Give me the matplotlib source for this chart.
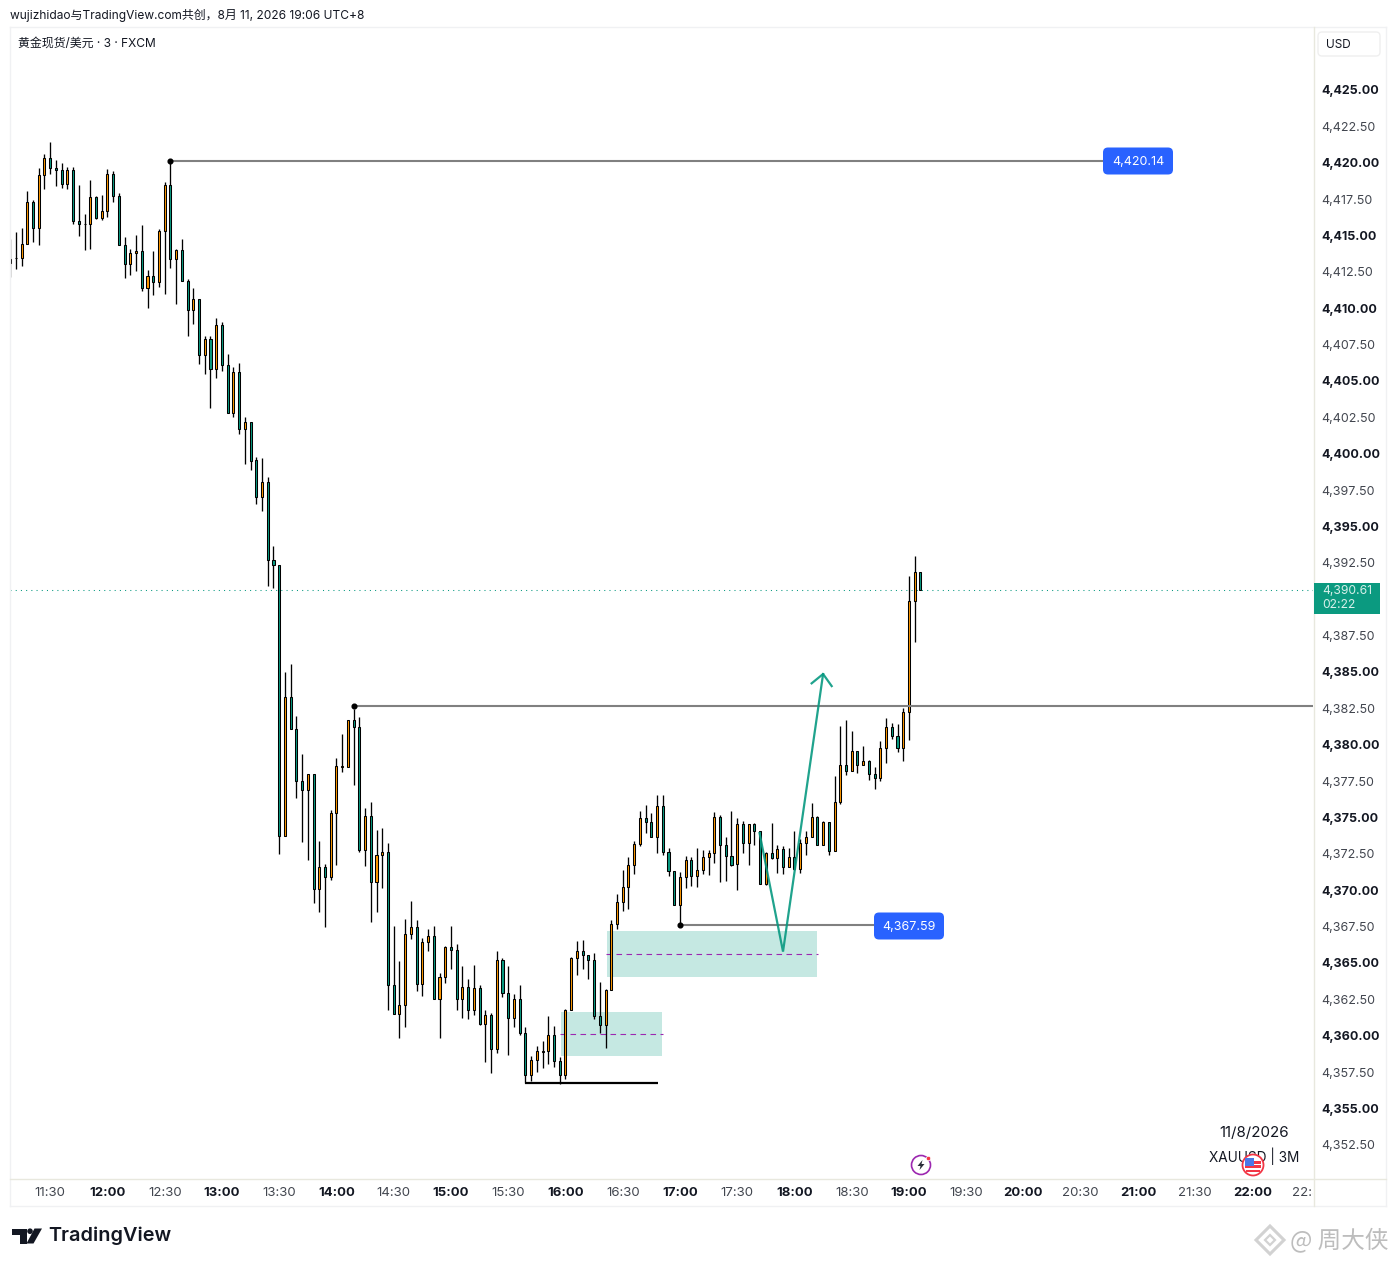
import matplotlib
matplotlib.use("Agg")
import matplotlib.pyplot as plt
from matplotlib.patches import FancyBboxPatch, Rectangle, Circle, Polygon
from matplotlib.transforms import Bbox

W, H = 1395, 1266
FONT = ['Inter', 'Noto Sans CJK SC', 'DejaVu Sans']
plt.rcParams['font.family'] = FONT

opens = [
 4413.09,4413.43,4413.43,4414.39,4417.28,4415.49,4419.13,4420.30,4419.62,4419.48,
 4418.52,4419.48,4415.97,4415.77,4415.77,4417.62,4416.22,4416.66,4419.20,4417.69,
 4414.32,4413.02,4413.77,4413.91,4411.37,4412.19,4411.78,4415.29,4418.45,4413.36,
 4413.98,4411.85,4409.86,4410.61,4406.76,4407.86,4405.80,4408.82,4406.08,4402.78,
 4405.59,4401.68,4402.16,4399.55,4397.05,4398.04,4392.67,4392.33,4373.70,4383.26,
 4381.06,4377.48,4376.86,4377.96,4370.06,4371.57,4370.93,4375.28,4378.45,4378.45,
 4381.68,4381.19,4372.74,4375.08,4370.54,4372.40,4372.60,4363.46,4361.47,4362.09,
 4366.97,4367.45,4363.53,4366.42,4366.83,4362.50,4364.01,4366.07,4365.87,4362.50,
 4363.32,4361.74,4363.25,4360.78,4361.40,4359.06,4365.18,4362.91,4361.19,4362.50,
 4360.16,4357.27,4358.31,4358.90,4358.92,4360.02,4358.24,4357.27,4361.74,4365.32,
 4365.80,4365.52,4365.18,4361.33,4360.71,4363.12,4367.65,4369.17,4370.20,4371.72,
 4373.16,4374.95,4374.67,4373.64,4375.77,4372.61,4371.30,4368.97,4370.89,4372.06,
 4370.96,4371.37,4372.26,4372.54,4375.01,4373.09,4372.33,4371.78,4374.53,4373.23,
 4374.53,4374.05,4370.41,4372.54,4372.20,4372.81,4371.58,4372.26,4371.44,4373.23,
 4373.64,4375.01,4373.09,4374.67,4372.67,4376.05,4378.59,4378.18,4379.55,4378.59,
 4378.87,4377.97,4377.70,4379.76,4381.20,4380.58,4379.76,4382.23,4389.86,4391.85]
highs = [
 4414.76,4415.22,4415.49,4418.06,4417.42,4419.64,4420.60,4421.40,4420.17,4419.96,
 4419.68,4419.68,4418.45,4416.48,4418.79,4417.69,4417.76,4419.55,4419.41,4417.90,
 4414.87,4414.05,4415.01,4415.70,4412.60,4413.91,4415.42,4418.65,4420.14,4414.05,
 4414.74,4411.99,4411.37,4410.61,4408.07,4408.07,4409.31,4409.03,4406.83,4405.94,
 4406.21,4402.50,4402.16,4399.75,4399.69,4398.38,4393.64,4392.33,4384.98,4385.52,
 4381.95,4379.34,4377.96,4377.96,4373.36,4371.78,4375.49,4379.06,4380.74,4381.68,
 4382.43,4381.88,4375.63,4376.04,4374.12,4374.25,4373.22,4367.52,4365.11,4368.00,
 4369.23,4367.93,4366.69,4367.31,4367.52,4364.29,4366.14,4367.52,4366.28,4364.77,
 4363.87,4364.84,4363.46,4361.74,4361.54,4365.80,4365.32,4364.77,4362.84,4363.46,
 4360.57,4358.58,4359.27,4359.61,4361.33,4360.64,4358.51,4361.81,4365.38,4366.48,
 4366.55,4365.52,4365.66,4363.67,4363.19,4367.93,4369.72,4371.37,4372.26,4373.36,
 4375.43,4375.84,4375.29,4376.53,4376.53,4372.88,4371.30,4371.23,4372.33,4372.26,
 4372.88,4372.75,4372.75,4375.36,4375.15,4373.64,4375.43,4374.95,4374.74,4374.53,
 4374.60,4374.05,4372.61,4374.60,4373.09,4373.02,4372.88,4374.05,4373.50,4374.05,
 4375.97,4375.08,4374.74,4374.67,4377.83,4381.27,4381.68,4380.93,4379.55,4379.90,
 4378.93,4378.45,4380.24,4381.82,4381.47,4381.40,4382.50,4391.58,4392.95,4391.85]
lows = [
 4412.17,4412.72,4412.93,4414.39,4414.58,4414.37,4418.22,4419.25,4418.42,4418.29,
 4418.22,4415.81,4414.99,4414.03,4414.09,4416.16,4416.09,4416.29,4417.32,4414.32,
 4412.10,4412.31,4412.58,4411.21,4410.04,4410.93,4411.48,4411.00,4412.79,4410.31,
 4411.85,4408.11,4408.94,4406.19,4405.50,4403.17,4405.23,4405.71,4402.78,4402.55,
 4401.38,4399.32,4398.88,4396.57,4396.09,4390.93,4390.80,4372.51,4373.70,4381.06,
 4376.36,4373.34,4372.10,4369.14,4368.53,4367.49,4370.73,4371.76,4378.15,4378.45,
 4377.25,4372.65,4371.69,4367.84,4368.53,4370.18,4361.79,4361.47,4359.86,4360.62,
 4366.67,4363.09,4362.75,4365.84,4362.50,4359.86,4363.64,4364.61,4361.79,4361.24,
 4361.17,4361.44,4360.71,4358.21,4357.46,4358.83,4362.68,4358.70,4360.62,4360.07,
 4356.77,4356.91,4357.53,4357.80,4358.08,4357.87,4356.66,4357.05,4361.74,4364.19,
 4364.61,4363.92,4361.12,4360.16,4359.18,4363.12,4367.32,4368.60,4368.74,4371.14,
 4373.02,4373.96,4373.64,4372.54,4372.40,4371.00,4368.97,4367.59,4370.18,4370.32,
 4370.25,4371.14,4371.05,4371.90,4370.59,4370.66,4371.69,4370.04,4372.56,4371.76,
 4373.09,4370.41,4370.34,4372.13,4371.21,4371.14,4371.58,4371.37,4371.21,4372.40,
 4373.64,4373.09,4373.09,4372.40,4372.67,4375.91,4377.90,4378.18,4378.04,4378.59,
 4377.56,4376.94,4377.49,4378.77,4380.37,4379.53,4378.91,4380.35,4387.09,4390.61]
closes = [
 4413.36,4413.45,4414.39,4417.28,4415.49,4419.13,4420.30,4419.62,4419.48,4418.52,
 4419.48,4415.97,4415.77,4415.79,4417.62,4416.20,4416.66,4419.20,4417.69,4414.32,
 4413.02,4413.77,4413.91,4411.37,4412.19,4411.78,4415.29,4418.45,4413.36,4413.98,
 4411.85,4409.86,4410.61,4406.76,4407.86,4405.80,4408.82,4406.08,4402.78,4405.59,
 4401.68,4402.16,4399.52,4397.05,4398.04,4392.67,4392.33,4373.70,4383.26,4381.06,
 4377.48,4376.86,4377.96,4370.06,4371.57,4370.93,4375.28,4378.51,4378.51,4381.68,
 4381.19,4372.74,4375.08,4370.54,4372.40,4372.60,4363.46,4361.47,4362.09,4366.97,
 4367.45,4363.53,4366.42,4366.83,4362.50,4364.01,4366.07,4365.87,4362.50,4363.32,
 4361.74,4363.25,4360.78,4361.40,4359.06,4365.18,4362.91,4361.19,4362.50,4360.16,
 4357.27,4358.31,4358.92,4358.92,4360.02,4358.24,4357.27,4361.74,4365.32,4365.80,
 4365.52,4365.18,4361.33,4360.71,4363.12,4367.65,4369.17,4370.20,4371.72,4373.16,
 4374.95,4374.67,4373.64,4375.77,4372.61,4371.30,4368.97,4370.89,4372.06,4370.96,
 4371.37,4372.26,4372.54,4375.01,4373.09,4372.33,4371.76,4374.53,4373.23,4374.53,
 4374.05,4370.41,4372.54,4372.20,4372.81,4371.58,4372.26,4371.44,4373.23,4373.64,
 4375.01,4373.09,4374.67,4372.67,4376.05,4378.59,4378.18,4379.55,4378.59,4378.87,
 4377.97,4377.70,4379.76,4381.20,4380.58,4379.76,4382.23,4389.86,4391.85,4390.61]

price_ticks = [4352.5 + 2.5 * i for i in range(30)]
time_labels = ["11:30","12:00","12:30","13:00","13:30","14:00","14:30","15:00","15:30","16:00",
               "16:30","17:00","17:30","18:00","18:30","19:00","19:30","20:00","20:30","21:00",
               "21:30","22:00","22:30"]
time_idx = [7 + 10 * i for i in range(len(time_labels))]
level_high = 4420.14
level_mid = 4382.68
level_low = 4367.59
last_price = 4390.61
zone_upper = (104.2, 4367.18, 140.9, 4364.03, 4365.60)
zone_lower = (96.2, 4361.63, 113.8, 4358.61, 4360.10)
support_line = (89.9, 113.1, 4356.77)
arrow_path_x = [130.9, 135.0, 142.0]
arrow_path_y = [4373.93, 4365.78, 4384.86]
arrow_left = (140.0, 4384.22)
arrow_right = (143.5, 4384.03)

UP, DOWN = '#FF9800', '#089981'
fig = plt.figure(figsize=(W / 100, H / 100), dpi=100, facecolor='white')
ax = fig.add_axes([10 / W, (H - 1178) / H, 1303 / W, 1151 / H])
ax.set_xlim(-0.02, 227.57)
ax.set_ylim(4350.22, 4429.33)
for s in ax.spines.values():
    s.set_visible(False)

# zones
for z in (zone_upper, zone_lower):
    ax.add_patch(Rectangle((z[0], z[3]), z[2] - z[0], z[1] - z[3], fc='#C5E8E2', ec='none', zorder=1))
    ax.plot([z[0] - 0.2, z[2] + 0.2], [z[4], z[4]], color='#9C27B0', lw=0.8,
            ls=(0, (5, 4)), zorder=1.5)

# candles
n = len(opens)
xs = list(range(n))
ax.vlines(xs, lows, highs, color='black', lw=0.95, zorder=2)
colors = [UP if c >= o else DOWN for o, c in zip(opens, closes)]
bottoms = [min(o, c) for o, c in zip(opens, closes)]
heights = [abs(c - o) for o, c in zip(opens, closes)]
ax.bar(xs, heights, bottom=bottoms, width=0.36, color=colors, edgecolor='black', lw=0.75, zorder=3)

# level lines
ax.axhline(last_price, color=DOWN, lw=0.75, ls=(0, (1, 4)), zorder=1.2)
ax.plot([28, 190.8], [level_high, level_high], color='#808080', lw=1.5, zorder=4)
ax.plot([60, 227.5], [level_mid, level_mid], color='#808080', lw=1.5, zorder=4)
ax.plot([117, 150.8], [level_low, level_low], color='#808080', lw=1.5, zorder=4)
ax.plot([28, 60, 117], [level_high, level_mid, level_low], ls='none', marker='o', ms=3.4, color='black', zorder=5)
ax.plot([support_line[0], support_line[1]], [support_line[2]] * 2, color='black', lw=1.6, zorder=4,
        solid_capstyle='butt')

# arrow
ax.plot(arrow_path_x, arrow_path_y, color='#089981', lw=1.6, alpha=0.9, zorder=5, solid_joinstyle='miter')
ax.plot([arrow_left[0], arrow_path_x[-1], arrow_right[0]], [arrow_left[1], arrow_path_y[-1], arrow_right[1]],
        color='#089981', lw=1.6, alpha=0.9, zorder=5)

# axes ticks
ax.yaxis.tick_right()
ax.set_yticks(price_ticks)
ax.set_yticklabels([f"{p:,.2f}" for p in price_ticks])
ax.tick_params(axis='y', length=0, pad=5.8, labelsize=9)
for p, lab in zip(price_ticks, ax.get_yticklabels()):
    major = abs(p % 5) < 1e-6
    lab.set_fontweight('bold' if major else 'normal')
    lab.set_color('#131722' if major else '#42464F')
ax.set_xticks(time_idx)
ax.set_xticklabels(time_labels)
ax.tick_params(axis='x', length=0, pad=6.6, labelsize=9.5)
clip = Bbox([[10, 0], [1313, 200]])
for t, lab in zip(time_labels, ax.get_xticklabels()):
    major = t.endswith(':00')
    lab.set_fontweight('bold' if major else 'normal')
    lab.set_color('#131722' if major else '#42464F')
    lab.set_clip_box(clip)
    lab.set_clip_on(True)

# overlay in pixel coordinates for frame, badges and logos
ov = fig.add_axes([0, 0, 1, 1], facecolor='none')
ov.set_xlim(0, W)
ov.set_ylim(H, 0)
ov.axis('off')

frame = '#F0F1F3'
for x0, y0, x1, y1 in [(10, 27, 1386, 27), (10, 1206, 1386, 1206), (10, 27, 10, 1206), (1386, 27, 1386, 1206)]:
    ov.plot([x0, x1], [y0, y1], color=frame, lw=1)
ov.plot([1313.5, 1313.5], [27, 1206], color='#E8E8DE', lw=1)
ov.plot([10, 1386], [1178.5, 1178.5], color='#E8E8DE', lw=1)

ov.text(10, 15, "wujizhidao与TradingView.com共创，8月 11, 2026 19:06 UTC+8", fontsize=8.6,
        color='#131722', va='center', ha='left')
ov.text(18, 43.7, "黄金现货/美元 · 3 · FXCM", fontsize=8.6, color='#131722', va='center', ha='left')

ov.add_patch(FancyBboxPatch((1318, 32), 62, 24, boxstyle='round,pad=0,rounding_size=4', fc='white', ec='#EFEFEF', lw=1))
ov.text(1326, 44.5, "USD", fontsize=8.5, color='#131722', va='center', ha='left')


def badge(xc, yc, txt):
    ov.add_patch(FancyBboxPatch((xc - 32, yc - 10.5), 64, 21, boxstyle='round,pad=3,rounding_size=5',
                                fc='#2962FF', ec='none', zorder=6))
    ov.text(xc, yc + 1, txt, color='white', fontsize=9, ha='center', va='center', zorder=7)


badge(1138, 161, f"{level_high:,.2f}")
badge(909, 926, f"{level_low:,.2f}")

ov.add_patch(Rectangle((1314, 583), 66, 31, fc='#0B9A80', ec='none', zorder=6))
ov.text(1322, 591, f"{last_price:,.2f}", color='#D8F0EA', fontsize=8.7, va='center', ha='left', zorder=7)
ov.text(1322, 605.5, "02:22", color='#D8F0EA', fontsize=8.7, va='center', ha='left', zorder=7)

ov.text(1254, 1133, "11/8/2026", fontsize=10.9, color='#131722', ha='center', va='center')
ov.text(1254, 1156, "XAUUSD | 3M", fontsize=9.8, color='#131722', ha='center', va='center')

# US event flag
ov.add_patch(Circle((1253, 1165), 10.5, fc='white', ec='#F23645', lw=1.3, zorder=6))
ov.add_patch(Rectangle((1245, 1160.5), 16, 3, fc='#F23645', ec='none', zorder=7))
ov.add_patch(Rectangle((1245, 1165), 16, 3, fc='#F23645', ec='none', zorder=7))
ov.add_patch(Rectangle((1246, 1169.5), 14, 2.5, fc='#F23645', ec='none', zorder=7))
ov.add_patch(Rectangle((1245, 1158), 9, 8, fc='#4A78E8', ec='none', zorder=8))

# lightning icon
ov.add_patch(Circle((921, 1165), 9.5, fc='white', ec='#9C27B0', lw=1.2, zorder=6))
ov.add_patch(Polygon([(922.5, 1160), (917.5, 1166), (920.5, 1166), (919.5, 1170), (924.5, 1164), (921.5, 1164)],
                     closed=True, fc='#2A2E39', ec='none', zorder=7))
ov.add_patch(Circle((928.5, 1158.5), 2.2, fc='#F23645', ec='white', lw=0.5, zorder=8))

# TradingView logo
logo = '#131722'
ov.add_patch(Polygon([(12, 1228.5), (27, 1228.5), (27, 1243.5), (19.5, 1243.5), (19.5, 1234.5), (12, 1234.5)],
                     closed=True, fc=logo, ec='none'))
ov.add_patch(Circle((30, 1231.2), 2.8, fc=logo, ec='none'))
ov.add_patch(Polygon([(34.5, 1228.5), (42, 1228.5), (33.5, 1243.5), (26.5, 1243.5)], closed=True, fc=logo, ec='none'))
ov.text(48, 1236, "TradingView", fontsize=14.3, fontweight='semibold', color=logo, va='center', ha='left',
        family=['Inter', 'DejaVu Sans'])

# watermark
wm = '#D2D2D2'
ov.add_patch(Polygon([(1270, 1226), (1284, 1240), (1270, 1254), (1256, 1240)], closed=True, fc='none', ec=wm, lw=2.2))
ov.add_patch(Polygon([(1270, 1235), (1275, 1240), (1270, 1245), (1265, 1240)], closed=True, fc='none', ec=wm, lw=1.6))
ov.text(1290, 1240, "@ 周大侠", fontsize=17, color='#BDBDBD', va='center', ha='left',
        family=['Noto Sans CJK SC', 'DejaVu Sans'])

fig.savefig('out.png', dpi=100, facecolor='white')
